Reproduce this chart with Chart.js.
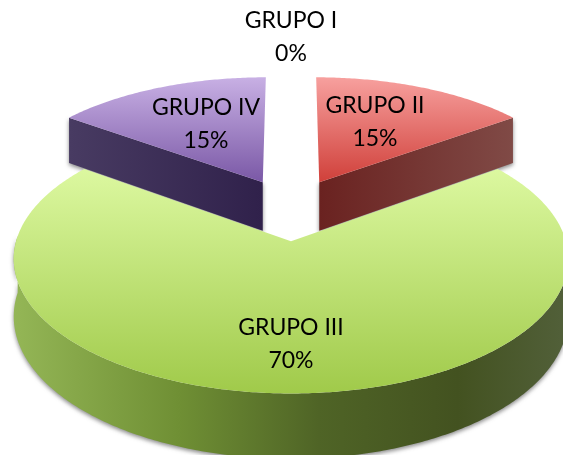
<!DOCTYPE html>
<html>
<head>
<meta charset="utf-8">
<script src="https://cdn.jsdelivr.net/npm/chart.js@4"></script>
<style>
  html, body { margin: 0; padding: 0; background: #fff; }
  canvas { display: block; }
</style>
</head>
<body>
<canvas id="pieChart" width="563" height="455"></canvas>
<script>
const categories = ['GRUPO I', 'GRUPO II', 'GRUPO III', 'GRUPO IV'];
const values = [0, 15, 70, 15];

// how far each slice is pulled out, in percent of the radius
const explode = [0, 24, 26, 24];

// colours per slice: top face gradient (far, near), side gradient (left, right)
const topColors = [null, ['#f7a09e', '#d0403a'], ['#dcf8a0', '#a0ca4a'], ['#c8b0e4', '#7a58a6']];
const sideColors = [
  null,
  [[0, '#6a2220'], [1, '#804a46']],
  [[0, '#94b656'], [0.3, '#6f8f34'], [0.55, '#4f6426'], [0.8, '#435220'], [1, '#52603a']],
  [[0, '#483b62'], [1, '#30214b']],
];
const labelPos = [[291, 28], [375, 113], [291, 335], [206, 115]];
const sliceDepth = [0, 50, 55, 50];

// flat circle -> screen, with a little perspective
const view = { cx: 291, cy: 208, rx: 266, ry: 124, persp: 0.125 };

const project = (X, Y, depth) => {
  const w = 1 + view.persp * Y;
  return [view.cx + view.rx * X / w, view.cy - view.ry * Y / w + depth / w];
};

const rimPoints = (arc, offset, depth, frontOnly) => {
  const start = arc.startAngle + Math.PI / 2;
  const end = arc.endAngle + Math.PI / 2;
  const mid = (start + end) / 2;
  const steps = Math.max(2, Math.round((end - start) * 90));
  const pts = [];
  for (let i = 0; i <= steps; i++) {
    const t = start + (end - start) * i / steps;
    if (frontOnly && Math.cos(t) > 0.05) continue;
    pts.push(project(Math.sin(t) + offset * Math.sin(mid), Math.cos(t) + offset * Math.cos(mid), depth));
  }
  return pts;
};

const tracePath = (ctx, pts) => {
  ctx.beginPath();
  pts.forEach((p, i) => (i ? ctx.lineTo(p[0], p[1]) : ctx.moveTo(p[0], p[1])));
  ctx.closePath();
};

const sideGradient = (ctx, stops, pts) => {
  const xs = pts.map((p) => p[0]);
  const grad = ctx.createLinearGradient(Math.min(...xs), 0, Math.max(...xs), 0);
  stops.forEach((s) => grad.addColorStop(s[0], s[1]));
  return grad;
};

const drawSlice = (ctx, arc, i) => {
  const offset = explode[i] / 100;
  const depth = sliceDepth[i];
  const mid = (arc.startAngle + arc.endAngle) / 2 + Math.PI / 2;
  const apex = project(offset * Math.sin(mid), offset * Math.cos(mid), 0);
  const apexDown = project(offset * Math.sin(mid), offset * Math.cos(mid), depth);
  const rim = rimPoints(arc, offset, 0, false);
  const rimDown = rimPoints(arc, offset, depth, false);
  let wall;
  if (i === 2) {
    // big slice shows its curved outer wall, only the part facing the viewer
    wall = rimPoints(arc, offset, 0, true).concat(rimPoints(arc, offset, depth, true).reverse());
  } else if (i === 1) {
    // small slices show the cut face towards the viewer
    wall = [apex, rim[rim.length - 1], rimDown[rimDown.length - 1], apexDown];
  } else {
    wall = [apex, rim[0], rimDown[0], apexDown];
  }

  ctx.save();
  ctx.shadowColor = 'rgba(40,40,40,0.55)';
  ctx.shadowBlur = 4;
  ctx.shadowOffsetX = 0;
  ctx.shadowOffsetY = 2;
  tracePath(ctx, wall);
  ctx.fillStyle = sideGradient(ctx, sideColors[i], wall);
  ctx.fill();
  ctx.restore();

  const face = [apex].concat(rim);
  const ys = face.map((p) => p[1]);
  const grad = ctx.createLinearGradient(0, Math.min(...ys), 0, Math.max(...ys));
  grad.addColorStop(0, topColors[i][0]);
  grad.addColorStop(1, topColors[i][1]);
  tracePath(ctx, face);
  ctx.fillStyle = grad;
  ctx.fill();
};

const pie3d = {
  id: 'pie3d',
  beforeDatasetDraw(chart) {
    const ctx = chart.ctx;
    const arcs = chart.getDatasetMeta(0).data;
    // back slices first, the big front one over them
    [1, 3, 2].forEach((i) => {
      if (values[i] > 0) drawSlice(ctx, arcs[i], i);
    });
    return false;
  },
  afterDraw(chart) {
    const ctx = chart.ctx;
    ctx.save();
    ctx.font = '23px Lato';
    ctx.fillStyle = '#000';
    ctx.textAlign = 'center';
    ctx.textBaseline = 'alphabetic';
    categories.forEach((name, i) => {
      const [x, y] = labelPos[i];
      ctx.fillText(name, x, y);
      ctx.fillText(`${values[i]}%`, x, y + 33);
    });
    ctx.restore();
  },
};

new Chart(document.getElementById('pieChart'), {
  type: 'pie',
  data: {
    labels: categories,
    datasets: [{
      data: values,
      borderWidth: 0,
      backgroundColor: ['#4f81bd', '#c0504d', '#9bbb59', '#8064a2'],
    }],
  },
  options: {
    responsive: false,
    animation: false,
    rotation: 0,
    plugins: {
      legend: { display: false },
      tooltip: { enabled: false },
    },
  },
  plugins: [pie3d],
});
</script>
</body>
</html>
